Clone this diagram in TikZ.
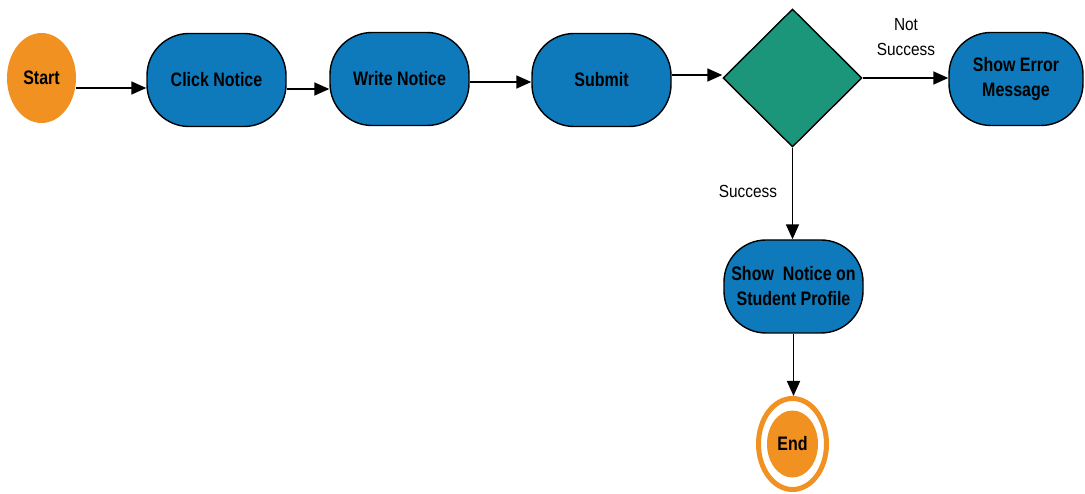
\documentclass[tikz,border=0pt]{standalone}
\usepackage{fontspec}
\setmainfont{Liberation Sans}
\newfontfamily\nodefont[FakeStretch=0.82]{Liberation Sans}
\newfontfamily\labfont[FakeStretch=0.88]{Liberation Sans}
\usetikzlibrary{arrows.meta,shapes.geometric,calc}
\definecolor{nblue}{RGB}{14,122,187}
\definecolor{norange}{RGB}{240,145,34}
\definecolor{ngreen}{RGB}{27,150,122}
\begin{document}
\begin{tikzpicture}[x=1pt,y=-1pt,
  proc/.style={rectangle,rounded corners=42pt,draw=black,line width=1.4pt,fill=nblue,
    minimum width=139pt,minimum height=93pt,inner sep=2pt,align=center,
    font=\nodefont\bfseries\fontsize{19.5}{25}\selectfont},
  term/.style={ellipse,fill=norange,inner sep=0pt,
    font=\nodefont\bfseries\fontsize{19.5}{24}\selectfont},
  dec/.style={diamond,draw=black,line width=1.4pt,fill=ngreen,inner sep=0pt,
    minimum width=139pt,minimum height=138pt},
  arr/.style={line width=1.6pt,-{Triangle[length=15pt,width=13pt]}},
  lab/.style={align=center,inner sep=0pt,font=\labfont\fontsize{17.5}{25}\selectfont}]
\useasboundingbox (0,0) rectangle (1085,494);
\node[term,minimum width=69pt,minimum height=90pt] (start) at (41.5,78) {Start};
\node[proc] (click) at (216.5,80) {Click Notice};
\node[proc] (write) at (399.5,79) {Write Notice};
\node[proc] (submit) at (601.5,80) {Submit};
\node[dec] (dec) at (792.5,78) {};
\node[proc,minimum width=134pt] (err) at (1016,79) {Show Error\\Message};
\node[proc] (show) at (793.5,286.5) {Show\ \ Notice on\\Student Profile};
\node[ellipse,draw=norange,line width=5pt,fill=white,minimum width=68pt,minimum height=91pt,inner sep=0pt] (endring) at (792.5,444) {};
\node[term,minimum width=51pt,minimum height=67pt] (end) at (792.5,444) {End};
\draw[arr] ([yshift=-10pt]start.east) -- ([yshift=-10pt]start.east -| click.west);
\draw[arr] ([yshift=-9pt]click.east) -- ([yshift=-9pt]click.east -| write.west);
\draw[arr] ([yshift=-3pt]write.east) -- ([yshift=-3pt]write.east -| submit.west);
\draw[arr] ([yshift=5pt]submit.east) -- ([yshift=5pt]submit.east -| dec.west);
\draw[arr] (dec.east) -- (dec.east -| err.west);
\draw[arr] (dec.south) -- (dec.south |- show.north);
\draw[arr] (show.south) -- (show.south |- endring.north);
\node[lab] (notsucc) at (906,37) {Not\\Success};
\node[lab] (succ) at (748,191) {Success};
\end{tikzpicture}
\end{document}
